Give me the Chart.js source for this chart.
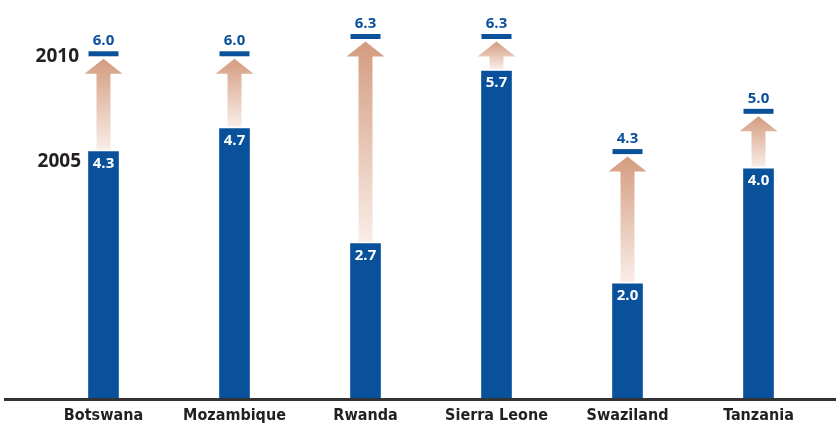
<!DOCTYPE html>
<html>
<head>
<meta charset="utf-8">
<script src="https://cdn.jsdelivr.net/npm/chart.js@4"></script>
<style>
  html, body { margin: 0; padding: 0; background: #fff; }
  #wrap { width: 836px; height: 423px; }
</style>
</head>
<body>
<div id="wrap"><canvas id="chart" width="836" height="423"></canvas></div>
<script>
const countries = ['Botswana', 'Mozambique', 'Rwanda', 'Sierra Leone', 'Swaziland', 'Tanzania'];
const values2005 = [4.3, 4.7, 2.7, 5.7, 2.0, 4.0];
const values2010 = [6.0, 6.0, 6.3, 6.3, 4.3, 5.0];
const yearLabels = ['2010', '2005'];

const blue = '#0a519c';
const numFont = "'Open Sans', sans-serif";

// arrows between the 2005 bar and the 2010 marker, plus value labels
const arrowPlugin = {
  id: 'arrows',
  beforeDatasetsDraw(chart) {
    const ctx = chart.ctx;
    const bars = chart.getDatasetMeta(0).data;
    const marks = chart.getDatasetMeta(1).data;
    bars.forEach((bar, i) => {
      const x = bar.x;
      const base = bar.y - 2;
      const tip = marks[i].y + 5;
      const headH = 15, headW = 19, shaftW = 7;
      const g = ctx.createLinearGradient(0, tip, 0, base);
      g.addColorStop(0, '#d49c80');
      g.addColorStop(1, '#f9ede7');
      ctx.save();
      ctx.fillStyle = g;
      ctx.beginPath();
      ctx.moveTo(x, tip);
      ctx.lineTo(x + headW, tip + headH);
      ctx.lineTo(x + shaftW, tip + headH);
      ctx.lineTo(x + shaftW, base);
      ctx.lineTo(x - shaftW, base);
      ctx.lineTo(x - shaftW, tip + headH);
      ctx.lineTo(x - headW, tip + headH);
      ctx.closePath();
      ctx.fill();
      ctx.restore();
    });
  },
  afterDatasetsDraw(chart) {
    const ctx = chart.ctx;
    const bars = chart.getDatasetMeta(0).data;
    const marks = chart.getDatasetMeta(1).data;
    ctx.save();
    ctx.textAlign = 'center';
    ctx.textBaseline = 'middle';
    ctx.font = 'bold 15px ' + numFont;
    bars.forEach((bar, i) => {
      ctx.fillStyle = '#ffffff';
      ctx.fillText(values2005[i].toFixed(1), bar.x, bar.y + 12);
      ctx.fillStyle = blue;
      ctx.fillText(values2010[i].toFixed(1), marks[i].x, marks[i].y - 13);
    });
    // year labels on the left
    ctx.textAlign = 'right';
    ctx.fillStyle = '#231f20';
    ctx.font = 'bold 19px ' + numFont;
    ctx.fillText(yearLabels[0], 79, marks[0].y + 3);
    ctx.fillText(yearLabels[1], 81, bars[0].y + 10);
    // baseline
    const y0 = chart.scales.y.getPixelForValue(0);
    ctx.strokeStyle = '#333333';
    ctx.lineWidth = 3;
    ctx.beginPath();
    ctx.moveTo(4, y0 + 0.5);
    ctx.lineTo(836, y0 + 0.5);
    ctx.stroke();
    ctx.restore();
  }
};

new Chart(document.getElementById('chart'), {
  type: 'bar',
  data: {
    labels: countries,
    datasets: [
      {
        label: '2005',
        data: values2005,
        backgroundColor: blue,
        barThickness: 30,
        borderWidth: 0,
        order: 2
      },
      {
        type: 'line',
        label: '2010',
        data: values2010,
        showLine: false,
        pointStyle: 'line',
        pointRadius: 15,
        pointHoverRadius: 15,
        borderWidth: 5,
        borderColor: blue,
        backgroundColor: blue,
        order: 1
      }
    ]
  },
  options: {
    responsive: false,
    animation: false,
    layout: { autoPadding: false, padding: { left: 38, right: 12, top: 2, bottom: 0 } },
    plugins: {
      legend: { display: false },
      tooltip: { enabled: false }
    },
    scales: {
      x: {
        grid: { display: false, drawTicks: false },
        border: { display: false },
        ticks: {
          color: '#231f20',
          padding: 7,
          font: { family: "'Liberation Sans Narrow', 'DejaVu Sans Condensed', sans-serif", size: 16, weight: 'bold' }
        },
        afterFit(scale) { scale.height = 24; }
      },
      y: {
        display: false,
        min: 0,
        max: 6.9
      }
    }
  },
  plugins: [arrowPlugin]
});
</script>
</body>
</html>
